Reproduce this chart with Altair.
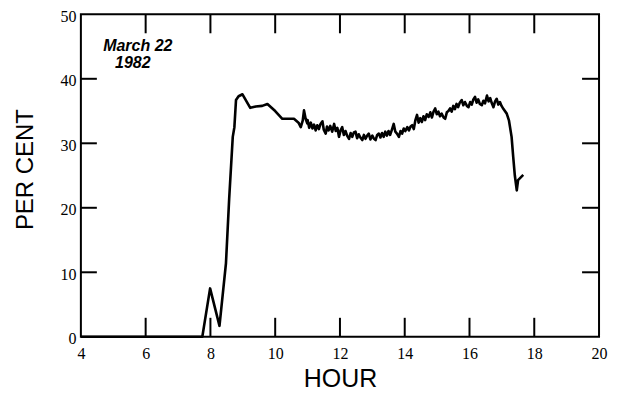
import altair as alt
import pandas as pd

hours = [4.0, 7.75, 7.99, 8.28, 8.48, 8.58, 8.69, 8.74, 8.79, 8.87, 8.99, 9.23, 9.40, 9.60, 9.76,
         10.00, 10.22, 10.58, 10.72, 10.79, 10.85, 10.89, 10.94, 10.99,
         11.00, 11.05, 11.10, 11.15, 11.20, 11.25, 11.30, 11.35, 11.40, 11.46, 11.50, 11.56, 11.60,
         11.65, 11.70, 11.76, 11.82, 11.87, 11.92, 11.97, 12.02, 12.07, 12.12, 12.17, 12.22, 12.28,
         12.33, 12.38, 12.43, 12.48, 12.53, 12.58, 12.63, 12.69, 12.74, 12.79, 12.84, 12.89, 12.94,
         13.00, 13.05, 13.10, 13.15, 13.20, 13.25, 13.30, 13.35, 13.40, 13.45, 13.50, 13.55, 13.61,
         13.66, 13.71, 13.76, 13.82, 13.87, 13.92, 13.97, 14.02, 14.08, 14.13, 14.18, 14.23, 14.28,
         14.33, 14.38, 14.43, 14.48, 14.53, 14.58, 14.63, 14.68, 14.74, 14.79, 14.84, 14.89, 14.94,
         14.99, 15.04, 15.09, 15.14, 15.20, 15.25, 15.30, 15.35, 15.40, 15.45, 15.50, 15.55, 15.60,
         15.65, 15.70, 15.76, 15.81, 15.86, 15.92, 15.97, 16.02, 16.07, 16.12, 16.17, 16.22, 16.27,
         16.32, 16.38, 16.43, 16.48, 16.54, 16.59, 16.64, 16.69, 16.74, 16.79, 16.84, 16.89, 16.94,
         16.99, 17.05, 17.15, 17.22, 17.30, 17.35, 17.40, 17.46, 17.50, 17.66]
percent = [0.0, 0.0, 7.5, 1.7, 11.4, 21.5, 31.0, 32.5, 36.7, 37.3, 37.6, 35.5, 35.7, 35.8, 36.1,
           35.0, 33.8, 33.8, 33.2, 32.5, 33.5, 35.1, 33.8, 33.1,
           33.6, 32.4, 33.2, 32.3, 32.9, 32.0, 32.8, 32.2, 33.0, 33.4, 32.1, 31.5, 32.6,
           32.0, 32.7, 31.8, 33.0, 31.9, 32.4, 31.0, 32.0, 32.5, 31.3, 31.9, 31.2, 30.7,
           31.6, 31.0, 31.7, 31.8, 30.8, 31.4, 30.9, 30.5, 31.3, 30.7, 31.2, 31.5, 30.6,
           31.2, 30.7, 30.5, 31.3, 31.5, 30.9, 31.6, 31.0, 31.8, 31.2, 31.9, 31.3, 32.2,
           33.0, 31.8, 31.5, 31.0, 31.9, 31.5, 32.3, 31.9, 32.5, 32.0, 32.6, 32.8, 32.2,
           33.6, 34.4, 33.2, 33.9, 33.3, 34.2, 33.6, 34.5, 34.1, 34.8, 34.0, 34.9, 35.4,
           34.5, 34.9, 34.2, 34.6, 34.0, 33.8, 34.8, 35.0, 35.4, 34.9, 35.8, 35.3, 36.1,
           35.6, 36.3, 36.7, 35.9, 36.4, 35.8, 35.6, 36.4, 36.0, 36.8, 37.2, 36.3, 36.8,
           36.1, 35.9, 36.6, 36.2, 37.4, 36.5, 37.0, 36.2, 35.6, 36.5, 36.9, 36.0, 36.4,
           35.8, 35.3, 34.6, 33.5, 31.0, 27.9, 25.0, 22.7, 24.3, 25.1]

x_tick_values = [4, 6, 8, 10, 12, 14, 16, 18, 20]
y_tick_values = [0, 10, 20, 30, 40, 50]
inner_x_ticks = [6, 8, 10, 12, 14, 16, 18]
inner_y_ticks = [10, 20, 30, 40]
note_lines = ["March 22", "1982"]

W, H = 519, 323
FONT = "Liberation Sans"
TICKFONT = "Liberation Sans Narrow"

df = pd.DataFrame({"hour": hours, "pct": percent})
xt = pd.DataFrame({"hour": inner_x_ticks})
yt = pd.DataFrame({"pct": inner_y_ticks})

xscale = alt.Scale(domain=[4, 20], nice=False, zero=False)
yscale = alt.Scale(domain=[0, 50], nice=False)

line = alt.Chart(df).mark_line(color="black", strokeWidth=2.6, strokeJoin="round").encode(
    x=alt.X("hour:Q", scale=xscale,
            axis=alt.Axis(values=x_tick_values, title="HOUR", domain=False, ticks=False, grid=False,
                          labelFont=TICKFONT, labelFontSize=16, labelColor="black", labelPadding=9,
                          titleFont=FONT, titleFontSize=25, titleFontWeight="normal", titleColor="black",
                          titleY=50, titleBaseline="alphabetic", labelFlush=False)),
    y=alt.Y("pct:Q", scale=yscale,
            axis=alt.Axis(values=y_tick_values, title="PER CENT", domain=False, ticks=False, grid=False,
                          labelFont=TICKFONT, labelFontSize=16, labelColor="black", labelPadding=5,
                          labelOffset=2,
                          titleFont=FONT, titleFontSize=24, titleFontWeight="normal", titleColor="black",
                          titleX=-48, titleY=155, titleAngle=-90, titleBaseline="alphabetic",
                          titleAlign="center", labelFlush=False)),
)

bottom_ticks = alt.Chart(xt).mark_rule(color="black", strokeWidth=2).encode(
    x=alt.X("hour:Q", scale=xscale), y=alt.value(H), y2=alt.value(H - 19))
top_ticks = alt.Chart(xt).mark_rule(color="black", strokeWidth=2).encode(
    x=alt.X("hour:Q", scale=xscale), y=alt.value(0), y2=alt.value(19))
left_ticks = alt.Chart(yt).mark_rule(color="black", strokeWidth=2).encode(
    y=alt.Y("pct:Q", scale=yscale), x=alt.value(0), x2=alt.value(16))
right_ticks = alt.Chart(yt).mark_rule(color="black", strokeWidth=2).encode(
    y=alt.Y("pct:Q", scale=yscale), x=alt.value(W), x2=alt.value(W - 17))

note1 = alt.Chart(pd.DataFrame({"t": [note_lines[0]]})).mark_text(
    font=FONT, fontSize=16, fontWeight="bold", fontStyle="italic", color="black",
    align="center", baseline="alphabetic").encode(text="t:N", x=alt.value(57), y=alt.value(37))
note2 = alt.Chart(pd.DataFrame({"t": [note_lines[1]]})).mark_text(
    font=FONT, fontSize=16, fontWeight="bold", fontStyle="italic", color="black",
    align="center", baseline="alphabetic").encode(text="t:N", x=alt.value(52), y=alt.value(54))

chart = alt.layer(line, bottom_ticks, top_ticks, left_ticks, right_ticks, note1, note2).properties(
    width=W, height=H,
    autosize=alt.AutoSizeParams(type="none"),
    padding={"left": 73, "top": 6, "right": 20, "bottom": 58},
    background="white",
).configure_view(stroke="black", strokeWidth=2)

chart.save("out.html", embed_options={"renderer": "svg", "actions": False})
